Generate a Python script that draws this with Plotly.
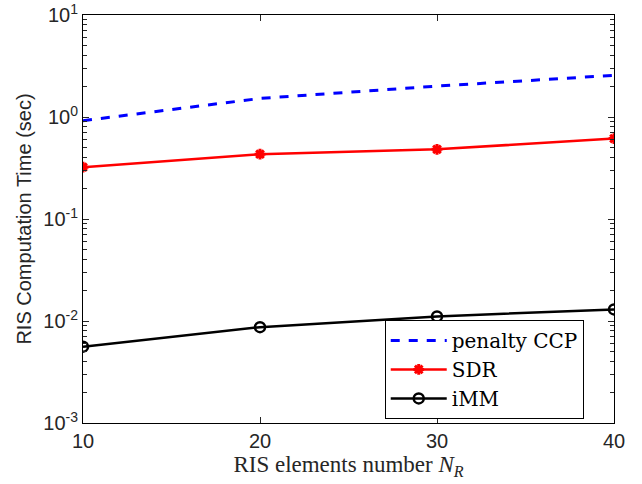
import plotly.graph_objects as go

N = [10, 20, 30, 40]
ccp = [0.92, 1.52, 2.01, 2.56]
sdr = [0.322, 0.432, 0.482, 0.615]
imm = [0.0056, 0.0087, 0.0111, 0.0130]

ytickvals = [1e-3, 1e-2, 1e-1, 1, 10]
yticktext = ["10<sup>-3</sup>", "10<sup>-2</sup>", "10<sup>-1</sup>", "10<sup>0</sup>", "10<sup>1</sup>"]
xtickvals = [10, 20, 30, 40]
yminor = [m * d for d in [1e-3, 1e-2, 1e-1, 1] for m in range(2, 10)]

fig = go.Figure()
fig.add_trace(go.Scatter(x=N, y=ccp, mode="lines", name="penalty CCP",
                         line=dict(color="blue", width=3, dash="dash")))
fig.add_trace(go.Scatter(x=N, y=sdr, mode="lines+markers", name="SDR",
                         line=dict(color="red", width=2.5),
                         marker=dict(symbol="asterisk-open", size=9, color="red",
                                     line=dict(color="red", width=3))))
fig.add_trace(go.Scatter(x=N, y=imm, mode="lines+markers", name="iMM",
                         line=dict(color="black", width=2.5),
                         marker=dict(symbol="circle-open", size=10, color="black",
                                     line=dict(color="black", width=2.5))))
# carrier for the minor-tick axis (draws nothing)
fig.add_trace(go.Scatter(x=N, y=imm, mode="none", yaxis="y2", showlegend=False, hoverinfo="skip"))

axis_common = dict(showline=True, linecolor="black", linewidth=1, mirror="ticks",
                   ticks="inside", ticklen=6, tickcolor="#262626", showgrid=False,
                   zeroline=False, ticklabeloverflow="allow", automargin=False,
                   tickfont=dict(family="Liberation Sans, Arial", size=20, color="#262626"))

fig.update_xaxes(range=[10, 40], tickvals=xtickvals,
                 title=dict(text="RIS elements number <i>N</i><sub><i>R</i></sub>",
                            font=dict(family="Liberation Serif, Times New Roman", size=23, color="#262626"),
                            standoff=4),
                 **axis_common)
fig.update_yaxes(type="log", range=[-3, 1], tickmode="array", tickvals=ytickvals, ticktext=yticktext,
                 title=dict(text="RIS Computation Time (sec)",
                            font=dict(family="Liberation Sans, Arial", size=20, color="#262626"),
                            standoff=6),
                 **axis_common)

fig.update_layout(
    width=642, height=484,
    margin=dict(l=83, r=28, t=15, b=61),
    paper_bgcolor="white", plot_bgcolor="white",
    showlegend=True,
    yaxis2=dict(type="log", range=[-3, 1], overlaying="y", side="left",
                tickmode="array", tickvals=yminor, showticklabels=False,
                ticks="inside", ticklen=4, tickwidth=1, tickcolor="#262626", mirror="ticks",
                showline=True, linecolor="black", linewidth=1,
                showgrid=False, zeroline=False, automargin=False),
    legend=dict(x=0.943, y=0.01, xanchor="right", yanchor="bottom",
                bgcolor="white", bordercolor="black", borderwidth=1,
                font=dict(family="DejaVu Serif", size=20, color="black"),
                tracegroupgap=0, itemwidth=56),
)

fig.write_html("out.html")
